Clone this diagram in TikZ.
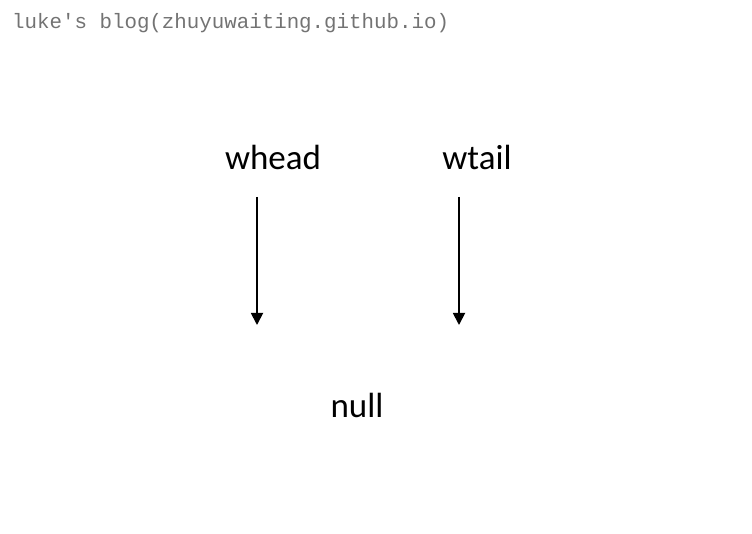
\documentclass[tikz,border=0pt]{standalone}
\usepackage{fontspec}
\setmainfont{Carlito}
\newfontfamily\wmfont{Liberation Mono}
\usetikzlibrary{arrows.meta}
\tikzset{
  lbl/.style={inner sep=0pt, anchor=base, font=\fontsize{35}{40}\selectfont},
  ptr/.style={line width=1.8pt, -{Triangle[length=12pt,width=12pt]}},
  wm/.style={inner sep=0pt, anchor=base west, text=black!55, font=\wmfont\fontsize{20.8}{22}\selectfont}
}
\begin{document}
\begin{tikzpicture}[x=1pt,y=-1pt]
\useasboundingbox (0,0) rectangle (752,534);
\node[wm] (wm) at (12,29) {luke's blog(zhuyuwaiting.github.io)};
\node[lbl] (whead) at (273,170) {whead};
\node[lbl] (wtail) at (477,170) {wtail};
\node[lbl] (null) at (357,417) {null};
\coordinate (h1) at (257,197);
\coordinate (h2) at (257,325);
\coordinate (t1) at (459,197);
\coordinate (t2) at (459,325);
\draw[ptr] (h1) -- (h2);
\draw[ptr] (t1) -- (t2);
\end{tikzpicture}
\end{document}
